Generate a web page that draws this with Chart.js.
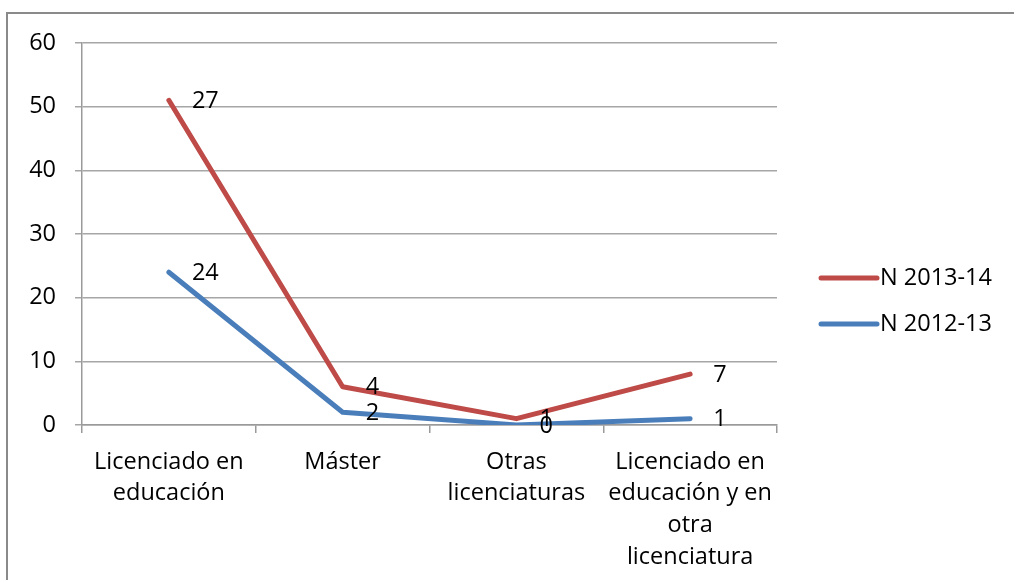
<!DOCTYPE html>
<html>
<head>
<meta charset="utf-8">
<script src="https://cdn.jsdelivr.net/npm/chart.js@4/dist/chart.umd.min.js"></script>
<style>
  html, body { margin: 0; padding: 0; background: #fff; }
  #wrap { position: relative; width: 1014px; height: 580px; overflow: hidden; }
  #frame { position: absolute; left: 6px; top: 12px; width: 1020px; height: 600px; border-left: 2px solid #8a8a8a; border-top: 2px solid #8a8a8a; box-sizing: border-box; }
  canvas { position: absolute; left: 0; top: 0; }
</style>
</head>
<body>
<div id="wrap">
  <div id="frame"></div>
  <canvas id="c" width="1014" height="580"></canvas>
</div>
<script>
const categories = [
  ["Licenciado en", "educación"],
  ["Máster"],
  ["Otras", "licenciaturas"],
  ["Licenciado en", "educación y en", "otra", "licenciatura"]
];
const seriesNames = ["N 2012-13", "N 2013-14"];
const values2012 = [24, 2, 0, 1];
const values2013 = [27, 4, 1, 7];
const yTicks = [0, 10, 20, 30, 40, 50, 60];

const FONT = "'Open Sans', Lato, sans-serif";
const FSIZE = 23.5;

const labelPlugin = {
  id: 'valueLabels',
  afterDatasetsDraw(chart) {
    const ctx = chart.ctx;
    ctx.save();
    ctx.font = FSIZE + "px " + FONT;
    ctx.fillStyle = "#000";
    ctx.textAlign = "left";
    ctx.textBaseline = "middle";
    chart.data.datasets.forEach((ds, di) => {
      const meta = chart.getDatasetMeta(di);
      meta.data.forEach((pt, i) => {
        ctx.fillText(String(ds.data[i]), pt.x + 23, pt.y + 1);
      });
    });
    ctx.restore();
  }
};

const legendPlugin = {
  id: 'customLegend',
  afterDraw(chart) {
    const ctx = chart.ctx;
    ctx.save();
    ctx.font = FSIZE + "px " + FONT;
    ctx.textAlign = "left";
    ctx.textBaseline = "middle";
    const order = [1, 0];
    order.forEach((di, k) => {
      const ds = chart.data.datasets[di];
      const y = 278 + k * 46;
      ctx.strokeStyle = ds.borderColor;
      ctx.lineWidth = 5;
      ctx.lineCap = "round";
      ctx.beginPath();
      ctx.moveTo(821, y);
      ctx.lineTo(877, y);
      ctx.stroke();
      ctx.fillStyle = "#000";
      ctx.fillText(ds.label, 880, y);
    });
    ctx.restore();
  }
};

new Chart(document.getElementById('c'), {
  type: 'line',
  data: {
    labels: categories,
    datasets: [
      { label: seriesNames[0], data: values2012, borderColor: '#4A7EBB', backgroundColor: '#4A7EBB', borderWidth: 5, pointRadius: 0, tension: 0, fill: false, borderJoinStyle: 'round', borderCapStyle: 'round' },
      { label: seriesNames[1], data: values2013, borderColor: '#BE4B48', backgroundColor: '#BE4B48', borderWidth: 5, pointRadius: 0, tension: 0, fill: false, borderJoinStyle: 'round', borderCapStyle: 'round' }
    ]
  },
  options: {
    responsive: false,
    animation: false,
    layout: { padding: { top: 43, right: 237, left: 0, bottom: 0 } },
    plugins: { legend: { display: false }, tooltip: { enabled: false } },
    scales: {
      x: {
        offset: true,
        grid: { offset: true, drawOnChartArea: false, drawTicks: true, tickLength: 8, color: '#9a9a9a', lineWidth: 1.5 },
        border: { color: '#9a9a9a', width: 1.5 },
        ticks: { color: '#000', font: { family: FONT, size: FSIZE, lineHeight: 1.35 }, padding: 13, maxRotation: 0, autoSkip: false },
        afterFit(s) { s.height = 155; }
      },
      y: {
        stacked: true,
        min: 0, max: 60,
        afterBuildTicks(s) { s.ticks = yTicks.map(v => ({ value: v })); },
        grid: { color: '#a6a6a6', lineWidth: 1.5, tickLength: 7 },
        border: { color: '#9a9a9a', width: 1.5 },
        ticks: { color: '#000', font: { family: FONT, size: FSIZE }, padding: 19 },
        afterFit(s) { s.width = 82; }
      }
    }
  },
  plugins: [labelPlugin, legendPlugin]
});
</script>
</body>
</html>
